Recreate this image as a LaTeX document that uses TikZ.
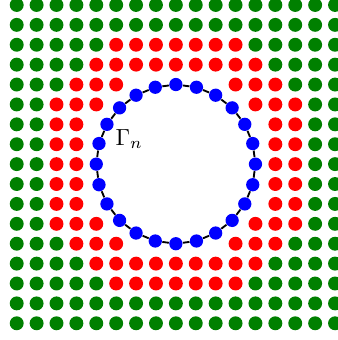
\documentclass[tikz,border=0pt]{standalone}
\tikzset{
  greendot/.style={fill=green!50!black},
  reddot/.style={fill=red},
  bluedot/.style={circle, fill=blue, inner sep=0pt, minimum size=0.2cm},
  bound/.style={black, thick}
}
\begin{document}
\begin{tikzpicture}[x=0.3cm, y=0.3cm]
  \useasboundingbox (-8.84,-8.84) rectangle (8.14,8.25);
  \clip (-8.84,-8.84) rectangle (8.14,8.25);

  % lattice points outside the disc
  \foreach \i in {-8,...,8}
    \foreach \j in {-8,...,8}{
      \pgfmathsetmacro{\dd}{\i*\i+\j*\j}
      \ifdim\dd pt<25pt \else
        \ifdim\dd pt<49pt
          \fill[reddot] (\i,\j) circle (0.35);
        \else
          \fill[greendot] (\i,\j) circle (0.35);
        \fi
      \fi
    }

  % boundary points
  \foreach \k in {0,...,23}
    \node[bluedot] (b\k) at (\k*15:4) {};
  \foreach \k in {0,...,23}{
    \pgfmathtruncatemacro{\nx}{mod(\k+1,24)}
    \draw[bound] (b\k) -- (b\nx);
  }

  \node[anchor=base west, inner sep=0pt] (gam) at (-3.05,0.96) {$\Gamma_n$};
\end{tikzpicture}
\end{document}
